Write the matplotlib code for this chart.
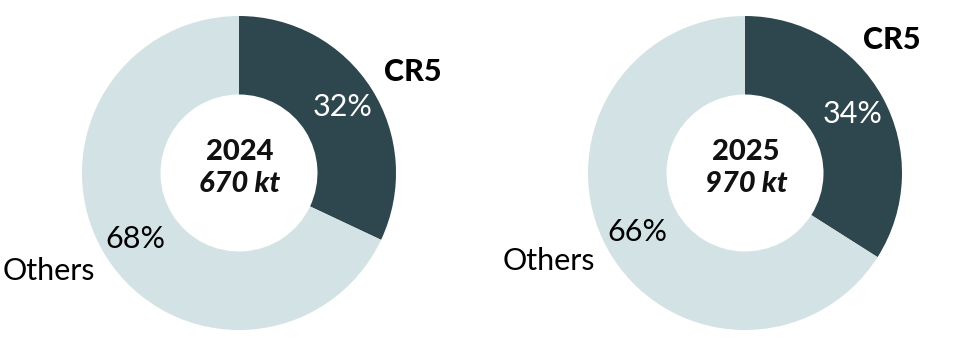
import matplotlib
matplotlib.use("Agg")
import matplotlib.pyplot as plt

categories = ["CR5", "Others"]
years = ["2024", "2025"]
totals = ["670 kt", "970 kt"]
shares_2024 = [32, 68]
shares_2025 = [34, 66]
colors = ["#2E464D", "#D3E2E5"]

plt.rcParams['font.family'] = ['Lato', 'DejaVu Sans']

W, H = 971, 358
fig = plt.figure(figsize=(W / 100, H / 100), dpi=100)
ax = fig.add_axes([0, 0, 1, 1])
ax.set_xlim(0, W)
ax.set_ylim(0, H)
ax.set_aspect('equal')
ax.axis('off')

R = 157
centers = [(239, H - 173), (745, H - 173)]
label_pos = [[(384, H - 72), (95, H - 271)], [(863, H - 40), (595, H - 261)]]

for i, shares in enumerate([shares_2024, shares_2025]):
    cx, cy = centers[i]
    wedges, texts, autotexts = ax.pie(
        shares, labels=categories, colors=colors, startangle=90,
        counterclock=False, center=(cx, cy), radius=R,
        wedgeprops=dict(width=R * 0.5, edgecolor='none'),
        autopct='%d%%', pctdistance=0.78, labeldistance=1.1,
        textprops=dict(fontsize=21))
    ax.set_xlim(0, W)
    ax.set_ylim(0, H)
    for j, t in enumerate(texts):
        t.set_position(label_pos[i][j])
        t.set_va('center')
        t.set_color('black')
        if j == 0:
            t.set_fontsize(22)
            t.set_fontweight('black')
            t.set_ha('left')
        else:
            t.set_fontsize(22)
            t.set_fontweight('normal')
            t.set_ha('right')
    for j, t in enumerate(autotexts):
        t.set_fontsize(22)
        t.set_fontweight('normal')
        t.set_color('white' if j == 0 else 'black')
    ax.text(cx + 1, cy + 21, years[i], ha='center', va='center',
            fontsize=21, fontweight='black', color='#111111')
    ax.text(cx + 1, cy - 11, totals[i], ha='center', va='center',
            fontsize=21, fontweight='black', fontstyle='italic', color='#111111')

fig.savefig("out.png", dpi=100)
